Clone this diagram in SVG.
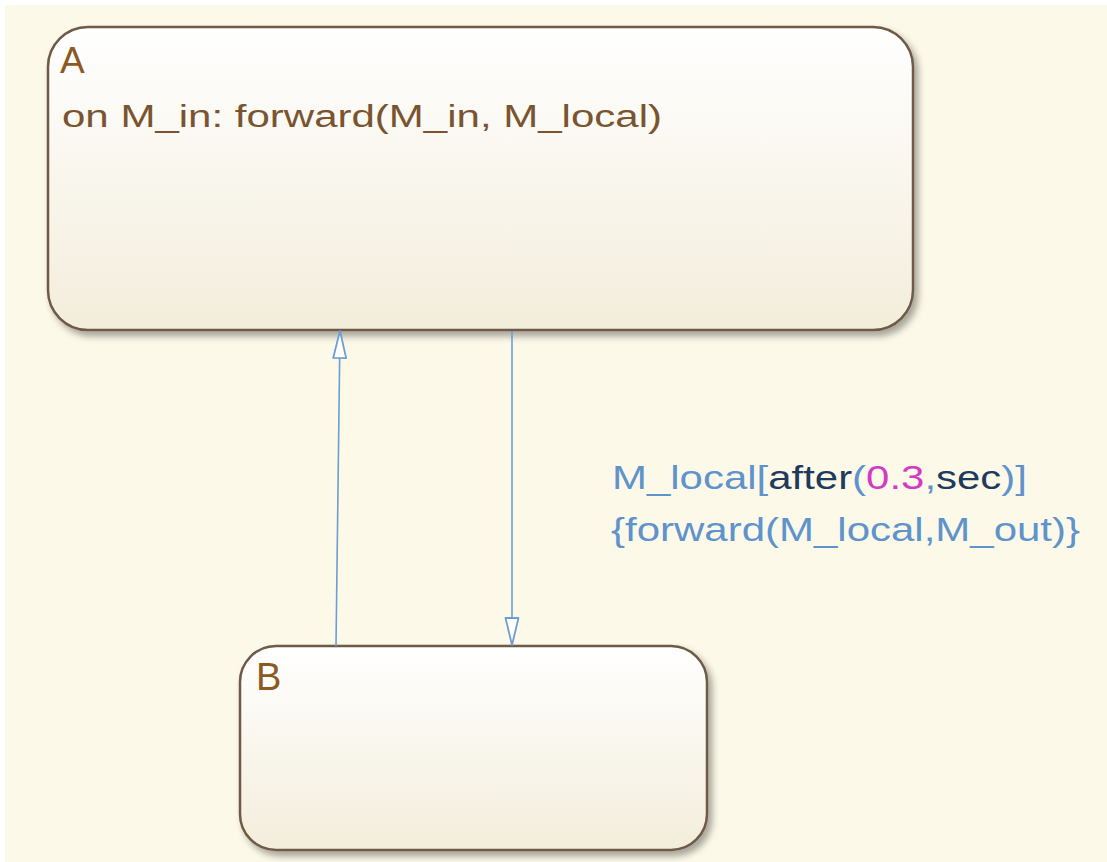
<svg xmlns="http://www.w3.org/2000/svg" width="1107" height="862" viewBox="0 0 1107 862">
<style>
.state{stroke:#6E5A46;stroke-width:2.5;fill:url(#sg);filter:url(#sh)}
.name{font-family:"Liberation Sans",Arial,sans-serif;fill:#8A5A22}
.act{font-family:"Liberation Sans",Arial,sans-serif;fill:#7A5430;font-size:31px}
.tr{stroke:#6C9DD3;stroke-width:1.6;fill:none}
.lbl{font-family:"Liberation Sans",Arial,sans-serif;font-size:33px;fill:#5E93CC}
.kw{fill:#1E3A5C}
.num{fill:#D23BC4}
</style>
<defs>
<linearGradient id="sg" x1="0" y1="0" x2="0" y2="1">
<stop offset="0" stop-color="#FFFFFF"/>
<stop offset="1" stop-color="#F3EDDB"/>
</linearGradient>
<filter id="sh" x="-10%" y="-10%" width="120%" height="130%">
<feDropShadow dx="4" dy="5" stdDeviation="3.5" flood-color="#000" flood-opacity="0.35"/>
</filter>
<marker id="ah" viewBox="0 0 30 16" refX="29" refY="8" markerWidth="30" markerHeight="16" markerUnits="userSpaceOnUse" orient="auto">
<path d="M29,8 L2,1.5 L2,14.5 Z" fill="#FFFFFF" stroke="#6C9DD3" stroke-width="1.8" stroke-linejoin="round"/>
</marker>
</defs>
<rect width="1107" height="862" fill="#FFFFFF"/>
<rect x="5" y="5" width="1102" height="857" fill="#FDF9E9"/>
<g id="state-A">
<rect class="state" x="48" y="27" width="865" height="303" rx="40" ry="40"/>
<text class="name" x="60" y="73" font-size="37">A</text>
<text class="act" x="62" y="127" textLength="600" lengthAdjust="spacingAndGlyphs">on M_in: forward(M_in, M_local)</text>
</g>
<g id="state-B">
<rect class="state" x="240" y="646" width="467" height="204" rx="36" ry="36"/>
<text class="name" x="256" y="690" font-size="38">B</text>
</g>
<g id="connectors">
<g id="t-B-A">
<line class="tr" x1="336" y1="646" x2="340" y2="331" marker-end="url(#ah)"/>
</g>
<g id="t-A-B">
<line class="tr" x1="512" y1="331" x2="512" y2="645" marker-end="url(#ah)"/>
<text class="lbl" x="612" y="489" textLength="415" lengthAdjust="spacingAndGlyphs">M_local[<tspan class="kw">after</tspan>(<tspan class="num">0.3</tspan>,<tspan class="kw">sec</tspan>)]</text>
<text class="lbl" x="611" y="541" textLength="469" lengthAdjust="spacingAndGlyphs">{forward(M_local,M_out)}</text>
</g>
</g>
</svg>
